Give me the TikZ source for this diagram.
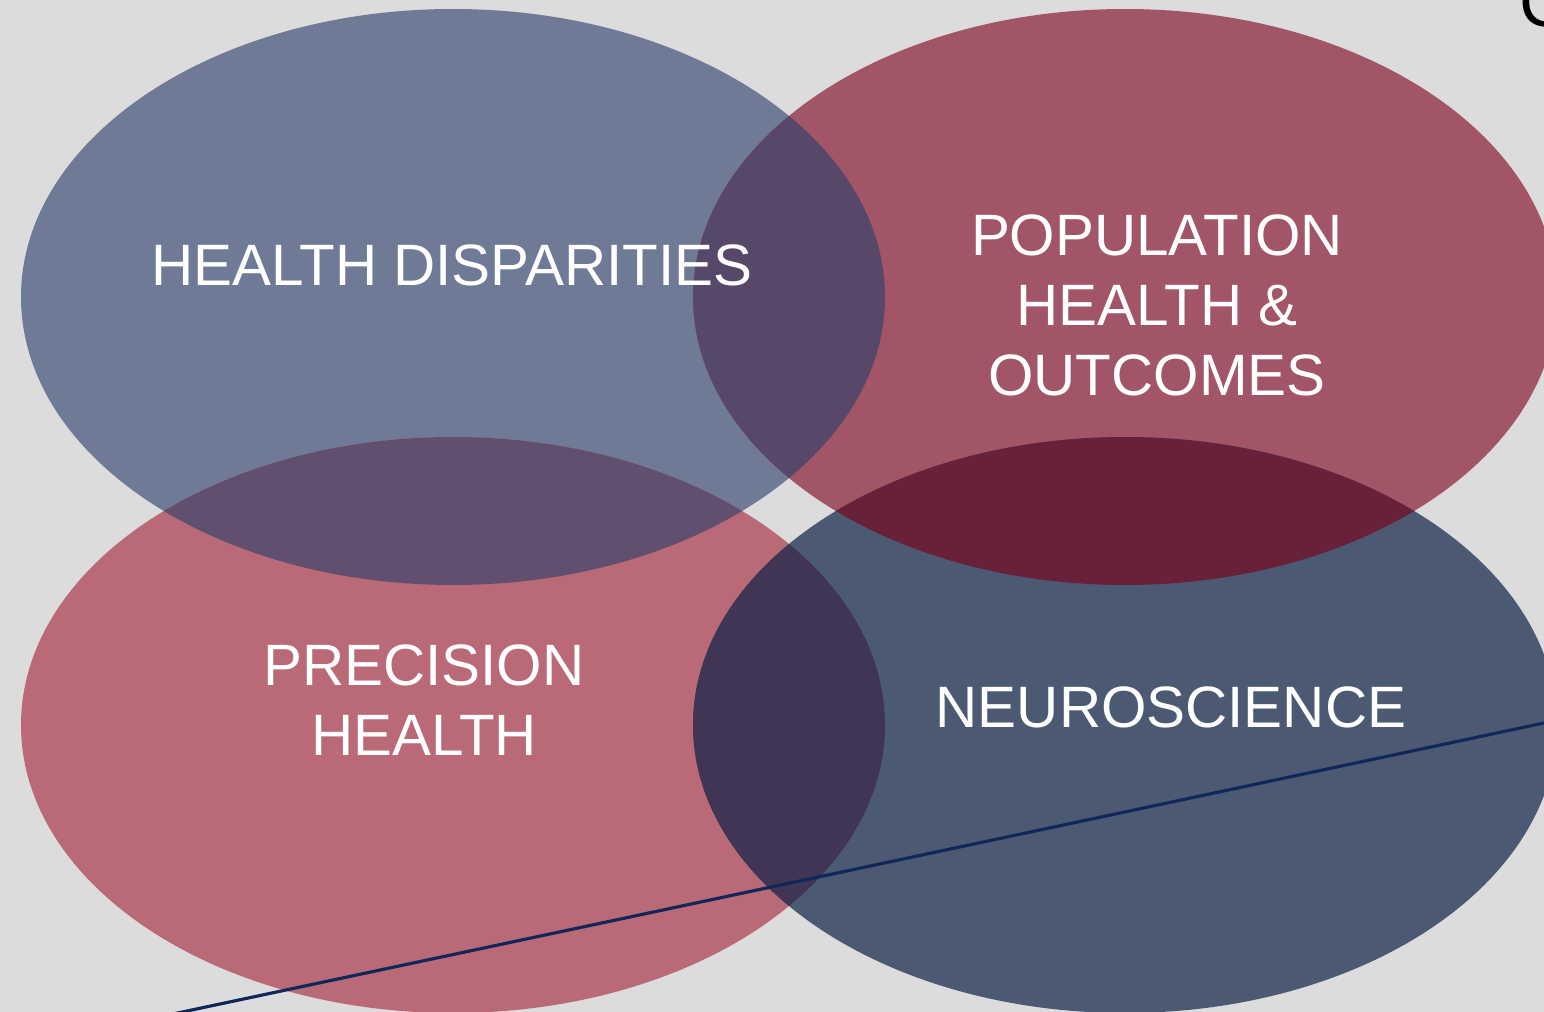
\documentclass[tikz,border=0pt]{standalone}
\usepackage{fontspec}
\setmainfont{Liberation Sans}
\usetikzlibrary{calc}
\begin{document}
\begin{tikzpicture}[x=0.01cm,y=-0.01cm]
  % palette
  \definecolor{bgc}{HTML}{DCDCDC}
  \definecolor{tlc}{HTML}{6F7A97}
  \definecolor{trc}{HTML}{A25566}
  \definecolor{blc}{HTML}{B96A76}
  \definecolor{brc}{HTML}{4B5A72}
  \definecolor{tltr}{HTML}{574769}
  \definecolor{tlbl}{HTML}{614F70}
  \definecolor{trbr}{HTML}{69213A}
  \definecolor{blbr}{HTML}{403554}
  \definecolor{navy}{HTML}{10275A}
  \tikzset{
    label/.style={text=white, font=\fontsize{16.6pt}{19.9pt}\selectfont,
      align=center, anchor=base, inner sep=0pt},
    ring/.style={x radius=432, y radius=288}
  }
  \useasboundingbox (0,0) rectangle (1544,1012);
  \clip (0,0) rectangle (1544,1012);
  \fill[bgc] (0,0) rectangle (1544,1012);

  % the four circles
  \fill[tlc] (453,297) ellipse [ring];
  \fill[trc] (1125,297) ellipse [ring];
  \fill[blc] (453,725) ellipse [ring];
  \fill[brc] (1125,725) ellipse [ring];

  % pairwise overlaps
  \begin{scope}
    \clip (453,297) ellipse [ring];
    \fill[tltr] (1125,297) ellipse [ring];
    \fill[tlbl] (453,725) ellipse [ring];
  \end{scope}
  \begin{scope}
    \clip (1125,725) ellipse [ring];
    \fill[trbr] (1125,297) ellipse [ring];
    \fill[blbr] (453,725) ellipse [ring];
  \end{scope}

  % labels (base = baseline of the last line)
  \node[label] (hd) at (452,285) {HEALTH DISPARITIES};
  \node[label] (pho) at (1157,395) {POPULATION\\HEALTH \&\\OUTCOMES};
  \node[label] (ph) at (424,755) {PRECISION\\HEALTH};
  \node[label] (ns) at (1171,727) {NEUROSCIENCE};

  % diagonal rule
  \coordinate (ls) at (187,1011);
  \coordinate (le) at (1544,723);
  \draw[navy, line width=0.9pt] ($(ls)!-0.1!(le)$) -- ($(le)!-0.1!(ls)$);

  % letter cut by the corner
  \node[anchor=base west, inner sep=0pt, font=\fontsize{20pt}{24pt}\selectfont] (cc) at (1519,26) {C};
\end{tikzpicture}
\end{document}
